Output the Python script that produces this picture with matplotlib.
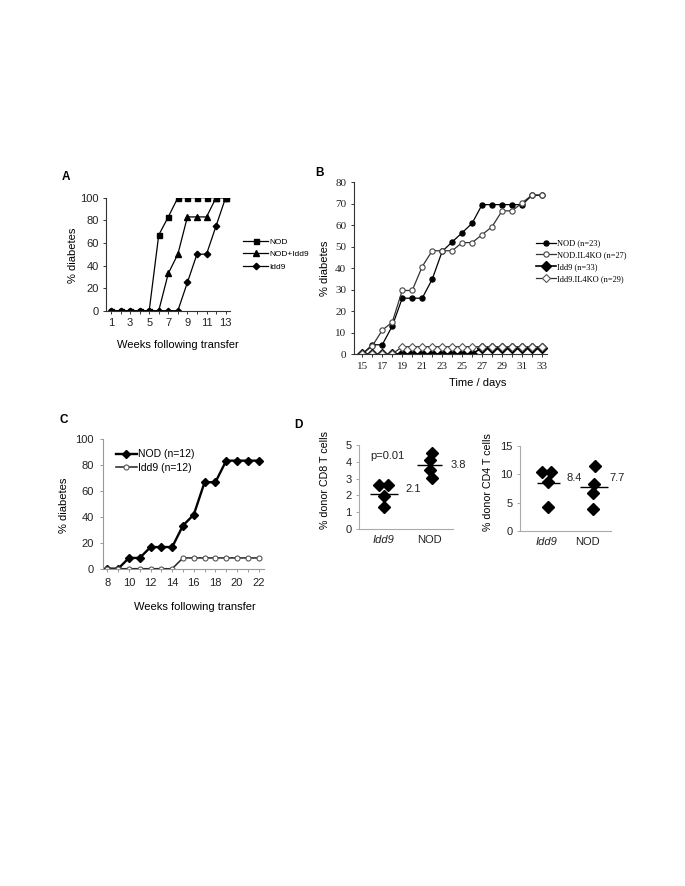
import matplotlib
matplotlib.use("Agg")
import matplotlib.pyplot as plt
import numpy as np

W, H = 685, 886

# Panel A - weeks following transfer
weeks_a = [1, 2, 3, 4, 5, 6, 7, 8, 9, 10, 11, 12, 13]
nod_a = [0, 0, 0, 0, 0, 67, 83, 100, 100, 100, 100, 100, 100]
nod_idd9_a = [0, 0, 0, 0, 0, 0, 33, 50, 83, 83, 83, 100, 100]
idd9_a = [0, 0, 0, 0, 0, 0, 0, 0, 25, 50, 50, 75, 100]

# Panel B - time / days
days_b = [15, 16, 17, 18, 19, 20, 21, 22, 23, 24, 25, 26, 27, 28, 29, 30, 31, 32, 33]
nod_b = [0, 4.3, 4.3, 13, 26, 26, 26, 34.8, 47.8, 52.2, 56.5, 60.9, 69.6, 69.6, 69.6, 69.6, 69.6, 73.9, 73.9]
nod_il4ko_b = [0, 3.7, 11.1, 14.8, 29.6, 29.6, 40.7, 48.1, 48.1, 48.1, 51.9, 51.9, 55.6, 59.3, 66.7, 66.7, 70.4, 74.1, 74.1]
idd9_b = [0, 0, 0, 0, 0, 0, 0, 0, 0, 0, 0, 0, 3, 3, 3, 3, 3, 3, 3]
idd9_il4ko_b = [0, 0, 0, 0, 3.4, 3.4, 3.4, 3.4, 3.4, 3.4, 3.4, 3.4, 3.4, 3.4, 3.4, 3.4, 3.4, 3.4, 3.4]

# Panel C
weeks_c = [8, 9, 10, 11, 12, 13, 14, 15, 16, 17, 18, 19, 20, 21, 22]
nod_c = [0, 0, 8.3, 8.3, 16.7, 16.7, 16.7, 33.3, 41.7, 66.7, 66.7, 83.3, 83.3, 83.3, 83.3]
idd9_c = [0, 0, 0, 0, 0, 0, 0, 8.3, 8.3, 8.3, 8.3, 8.3, 8.3, 8.3, 8.3]

# Panel D - % donor T cells
cd8_idd9 = [2.6, 2.6, 1.95, 1.3]
cd8_nod = [4.55, 4.1, 3.52, 3.03]
cd4_idd9 = [10.3, 10.4, 8.7, 4.2]
cd4_nod = [11.5, 8.2, 6.6, 3.9]
cd8_means = [2.1, 3.8]
cd4_means = [8.4, 7.7]
groups_d = ["Idd9", "NOD"]


def box(x0, y0, x1, y1):
    return [x0 / W, 1 - y1 / H, (x1 - x0) / W, (y1 - y0) / H]


def px(x, y):
    return x / W, 1 - y / H


def stil(ax, boja="black"):
    for s in ["top", "right"]:
        ax.spines[s].set_visible(False)
    for s in ["left", "bottom"]:
        ax.spines[s].set_color(boja)
        ax.spines[s].set_linewidth(0.8)
    ax.tick_params(direction="out", length=2.5, width=0.7, colors=boja, labelcolor="#222222", pad=3)


plt.rcParams["font.family"] = ["Liberation Sans", "DejaVu Sans"]
fig = plt.figure(figsize=(W / 100, H / 100), dpi=100)

# ---------------- A ----------------
axA = fig.add_axes(box(106.2, 197.7, 230.4, 310.7))
axA.plot(weeks_a, nod_a, "k-", marker="s", ms=3.6, lw=0.9, label="NOD")
axA.plot(weeks_a, nod_idd9_a, "k-", marker="^", ms=4, lw=0.9, label="NOD+Idd9")
axA.plot(weeks_a, idd9_a, "k-", marker="D", ms=3.3, lw=0.9, label="Idd9")
axA.set_xlim(0.5, 13.5)
axA.set_ylim(0, 100)
axA.set_xticks(weeks_a[::2])
axA.set_xticks(weeks_a, minor=True)
axA.set_yticks([0, 20, 40, 60, 80, 100])
stil(axA, "#333333")
axA.tick_params(which="minor", direction="out", length=2.5, width=0.7, colors="#333333")
axA.tick_params(labelsize=8)
axA.legend(loc="center left", bbox_to_anchor=(1.07, 0.5), frameon=False, fontsize=6,
           handlelength=3.0, handletextpad=0.1, labelspacing=0.55, borderpad=0)
fig.text(*px(72.7, 255), "% diabetes", rotation=90, ha="center", va="center", fontsize=8)
fig.text(*px(178, 345), "Weeks following transfer", ha="center", va="center", fontsize=8)
fig.text(*px(66, 177), "A", fontsize=8.5, fontweight="bold", ha="center", va="center")

# ---------------- B ----------------
axB = fig.add_axes(box(354, 182.3, 547, 354))
axB.plot(days_b, nod_b, "k-", marker="o", ms=3.6, lw=0.9, label="NOD (n=23)")
axB.plot(days_b, nod_il4ko_b, "-", color="#333333", marker="o", ms=3.8, mfc="white",
         mec="#444444", mew=0.8, lw=0.9, label="NOD.IL4KO (n=27)")
axB.plot(days_b, idd9_b, "k-", marker="D", ms=4.8, lw=1.2, label="Idd9 (n=33)")
axB.plot(days_b, idd9_il4ko_b, "-", color="#333333", marker="D", ms=3.8, mfc="white",
         mec="#555555", mew=0.8, lw=0.9, label="Idd9.IL4KO (n=29)")
axB.set_xlim(14.17, 33.5)
axB.set_ylim(0, 80)
axB.set_xticks(days_b[::2])
axB.set_xticks(days_b, minor=True)
axB.set_yticks(np.arange(0, 81, 10))
stil(axB, "#333333")
axB.tick_params(which="minor", direction="out", length=2.5, width=0.7, colors="#333333")
for t in axB.get_xticklabels() + axB.get_yticklabels():
    t.set_family(["Liberation Serif", "DejaVu Serif"])
    t.set_fontsize(8)
legB = axB.legend(loc="center left", bbox_to_anchor=(0.92, 0.54), frameon=False, fontsize=6,
                  handlelength=2.4, handletextpad=0.1, labelspacing=0.45, borderpad=0)
for t in legB.get_texts():
    t.set_family(["Liberation Serif", "DejaVu Serif"])
fig.text(*px(325, 268), "% diabetes", rotation=90, ha="center", va="center", fontsize=8)
fig.text(*px(478, 382.7), "Time / days", ha="center", va="center", fontsize=8)
fig.text(*px(320, 173), "B", fontsize=8.5, fontweight="bold", ha="center", va="center")

# ---------------- C ----------------
axC = fig.add_axes(box(102.7, 439, 263.5, 568.7))
axC.plot(weeks_c, nod_c, "k-", marker="D", ms=3.8, lw=1.7, label="NOD (n=12)")
axC.plot(weeks_c, idd9_c, "-", color="#222222", marker="o", ms=3.6, mfc="white",
         mec="#555555", mew=0.8, lw=1.1, label="Idd9 (n=12)")
axC.set_xlim(7.57, 22.45)
axC.set_ylim(0, 100)
axC.set_xticks(weeks_c[::2])
axC.set_xticks(weeks_c, minor=True)
axC.set_yticks([0, 20, 40, 60, 80, 100])
stil(axC, "#999999")
axC.tick_params(which="minor", direction="out", length=2.5, width=0.7, colors="#999999")
axC.tick_params(labelsize=8, pad=4)
axC.legend(loc="upper left", bbox_to_anchor=(0.05, 0.96), frameon=False, fontsize=7.5,
           handlelength=2.0, handletextpad=0.1, labelspacing=0.3, borderpad=0)
fig.text(*px(64.3, 505), "% diabetes", rotation=90, ha="center", va="center", fontsize=8)
fig.text(*px(195, 607), "Weeks following transfer", ha="center", va="center", fontsize=8)
fig.text(*px(64, 420), "C", fontsize=8.5, fontweight="bold", ha="center", va="center")

# ---------------- D ----------------
axD1 = fig.add_axes(box(359.3, 445, 453, 529))
axD1.plot(np.array([0.9, 1.1, 1.02, 1.02]), cd8_idd9, "kD", ms=6.5, ls="none")
axD1.plot(np.array([2.05, 2.0, 2.0, 2.05]), cd8_nod, "kD", ms=6.5, ls="none")
axD1.hlines(cd8_means, [0.7, 1.73], [1.32, 2.27], colors="black", lw=1)
axD1.text(1.48, cd8_means[0], str(cd8_means[0]), fontsize=8, ha="left", va="bottom", color="#222222")
axD1.text(2.45, cd8_means[1], str(cd8_means[1]), fontsize=8, ha="left", va="center", color="#222222")
axD1.text(1.08, 4.35, "p=0.01", fontsize=8, ha="center", va="center", color="#222222")
axD1.set_xlim(0.48, 2.5)
axD1.set_ylim(0, 5)
axD1.set_xticks([1, 2])
axD1.set_xticklabels(groups_d)
axD1.get_xticklabels()[0].set_style("italic")
axD1.set_yticks([0, 1, 2, 3, 4, 5])
stil(axD1, "#aaaaaa")
axD1.tick_params(axis="x", length=0, pad=4)
axD1.tick_params(labelsize=8)
fig.text(*px(325, 480), "% donor CD8 T cells", rotation=90, ha="center", va="center", fontsize=7.7)

axD2 = fig.add_axes(box(520, 445.7, 611, 531))
axD2.plot(np.array([0.87, 1.1, 1.03, 1.03]), cd4_idd9, "kD", ms=6.5, ls="none")
axD2.plot(np.array([2.19, 2.18, 2.16, 2.16]), cd4_nod, "kD", ms=6.5, ls="none")
axD2.hlines(cd4_means, [0.75, 1.83], [1.33, 2.53], colors="black", lw=1)
axD2.text(1.5, cd4_means[0], str(cd4_means[0]), fontsize=8, ha="left", va="bottom", color="#222222")
axD2.text(2.55, cd4_means[1] + 0.8, str(cd4_means[1]), fontsize=8, ha="left", va="bottom", color="#222222")
axD2.set_xlim(0.33, 2.6)
axD2.set_ylim(0, 15)
axD2.set_xticks([1, 2])
axD2.set_xticklabels(groups_d)
axD2.get_xticklabels()[0].set_style("italic")
axD2.set_yticks([0, 5, 10, 15])
stil(axD2, "#aaaaaa")
axD2.tick_params(axis="x", length=0, pad=4)
axD2.tick_params(labelsize=8)
fig.text(*px(488, 482), "% donor CD4 T cells", rotation=90, ha="center", va="center", fontsize=7.7)
fig.text(*px(298, 425), "D", fontsize=8.5, fontweight="bold", ha="center", va="center")

fig.savefig("out.png", dpi=100, facecolor="white")
